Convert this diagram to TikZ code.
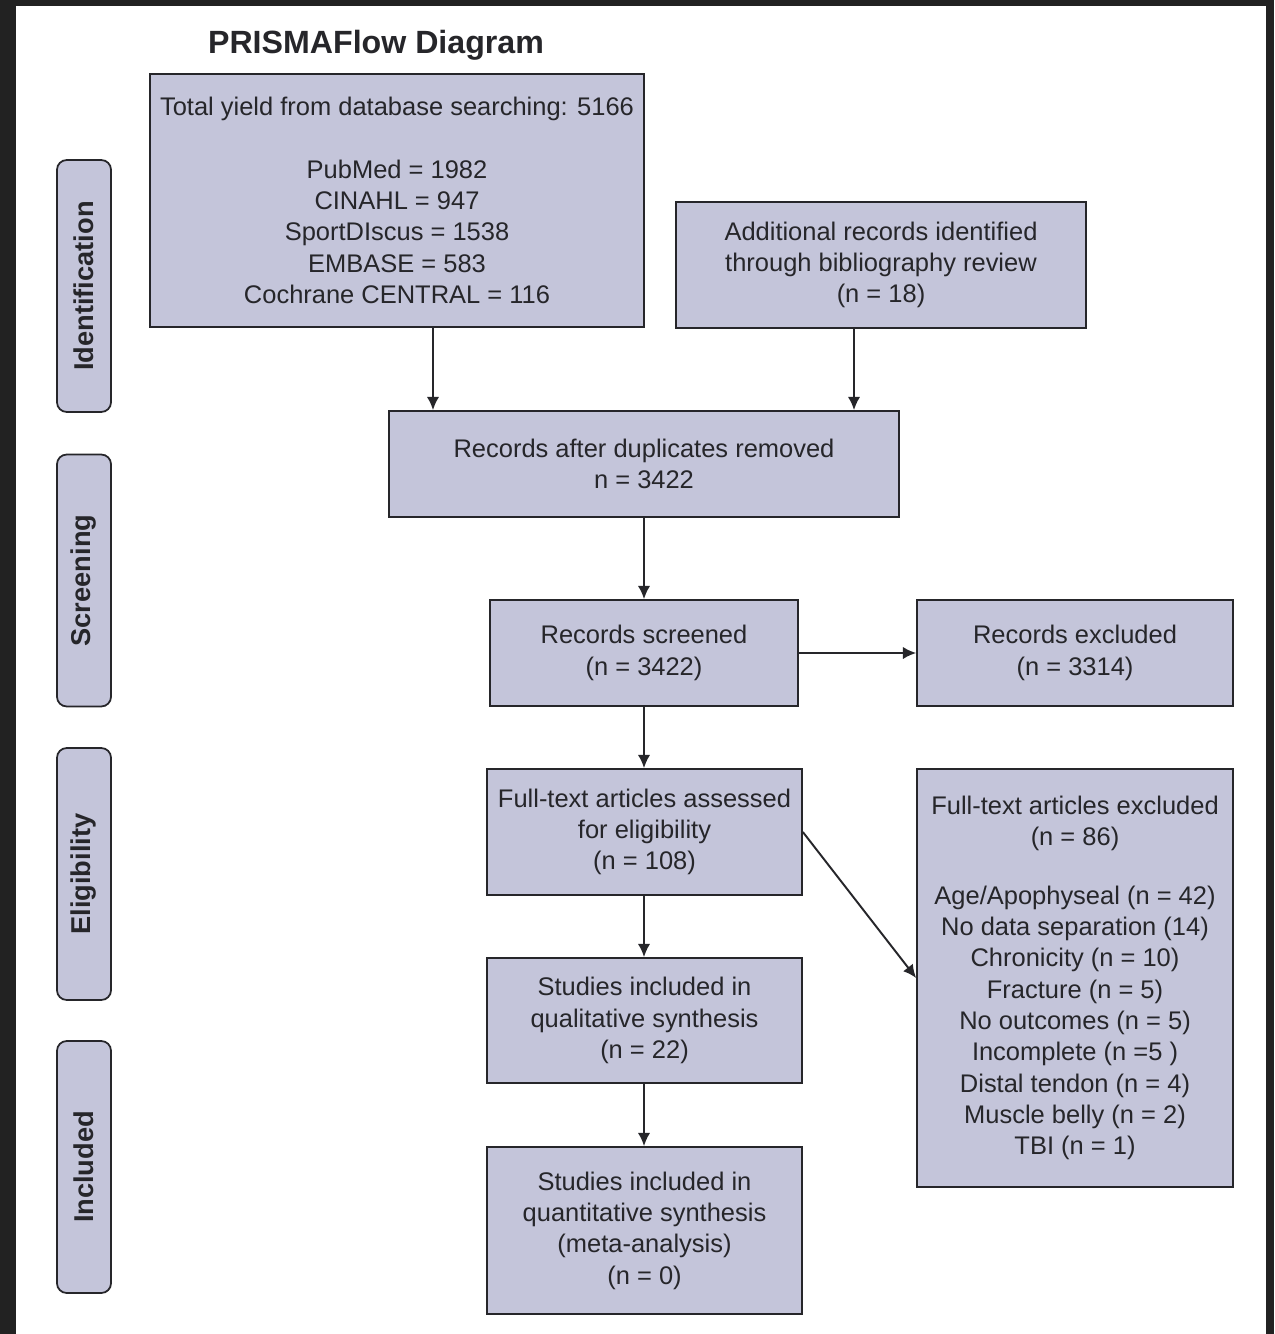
\documentclass[tikz,border=0pt]{standalone}
\usepackage{fontspec}
\setmainfont{Liberation Sans}
\usepackage{tikz}
\usetikzlibrary{arrows.meta}
\definecolor{boxfill}{RGB}{196,197,218}
\definecolor{frame}{RGB}{34,34,34}
\definecolor{ink}{RGB}{38,38,42}
\tikzset{
  box/.style={draw=ink,line width=1pt,fill=boxfill,text=ink,align=center,
    font=\fontsize{14.5}{17.8}\selectfont,inner sep=0pt},
  phase/.style={draw=ink,line width=1pt,fill=boxfill,rounded corners=5.5pt,rotate=90,
    minimum width=5.04cm,minimum height=1.08cm,text=ink,
    font=\bfseries\fontsize{15.5}{18}\selectfont},
  arr/.style={-{Latex[length=7.5pt,width=7pt]},line width=1.1pt,draw=ink}
}

\begin{document}
\begin{tikzpicture}[x=0.02cm,y=-0.02cm]
   \fill[frame] (0,0) rectangle (1274,1334);
   \fill[white] (16,6) rectangle (1266,1334);
   \useasboundingbox (0,0) rectangle (1274,1334);

   \node[text=ink,font=\bfseries\fontsize{18.3}{22}\selectfont] (title) at (376,45) {PRISMAFlow Diagram};

   \node[phase] (ident) at (84,286) {Identification};
   \node[phase] (screen) at (84,580.5) {Screening};
   \node[phase] (elig) at (84,874) {Eligibility};
   \node[phase] (incl) at (84,1167) {Included};

   \node[box,minimum width=9.88cm,minimum height=5.06cm] (db) at (397,200.5)
   {Total yield from database searching: 5166\\[17.8pt]
    PubMed = 1982\\ CINAHL = 947\\ SportDIscus = 1538\\ EMBASE = 583\\ Cochrane CENTRAL = 116};
   \node[box,minimum width=8.2cm,minimum height=2.52cm] (add) at (881,265)
   {Additional records identified\\ through bibliography review\\ (n = 18)};
   \node[box,minimum width=10.2cm,minimum height=2.12cm] (dup) at (644,464)
   {Records after duplicates removed\\ n = 3422};
   \node[box,minimum width=6.16cm,minimum height=2.12cm] (scr) at (644,653)
   {Records screened\\ (n = 3422)};
   \node[box,minimum width=6.32cm,minimum height=2.12cm] (exc) at (1075,653)
   {Records excluded\\ (n = 3314)};
   \node[box,minimum width=6.3cm,minimum height=2.52cm] (ft) at (644.5,832)
   {Full-text articles assessed\\ for eligibility\\ (n = 108)};
   \node[box,minimum width=6.32cm,minimum height=8.36cm] (ftex) at (1075,978)
   {Full-text articles excluded\\ (n = 86)\\[15.5pt]
    Age/Apophyseal (n = 42)\\ No data separation (14)\\ Chronicity (n = 10)\\
    Fracture (n = 5)\\ No outcomes (n = 5)\\ Incomplete (n =5 )\\
    Distal tendon (n = 4)\\ Muscle belly (n = 2)\\ TBI (n = 1)};
   \node[box,minimum width=6.3cm,minimum height=2.5cm] (qual) at (644.5,1020.5)
   {Studies included in\\ qualitative synthesis\\ (n = 22)};
   \node[box,minimum width=6.3cm,minimum height=3.34cm] (quant) at (644.5,1230.5)
   {Studies included in\\ quantitative synthesis\\ (meta-analysis)\\ (n = 0)};

   \draw[arr] ([xshift=0.72cm]db.south) -- ([xshift=0.72cm]db.south |- dup.north);
   \draw[arr] ([xshift=-0.54cm]add.south) -- ([xshift=-0.54cm]add.south |- dup.north);
   \draw[arr] (scr.north |- dup.south) -- (scr.north);
   \draw[arr] (scr) -- (exc);
   \draw[arr] (scr.south) -- (scr.south |- ft.north);
   \draw[arr] (ft.east) -- (ftex.west);
   \draw[arr] (scr.south |- ft.south) -- (scr.south |- qual.north);
   \draw[arr] (scr.south |- qual.south) -- (scr.south |- quant.north);
\end{tikzpicture}
\end{document}
